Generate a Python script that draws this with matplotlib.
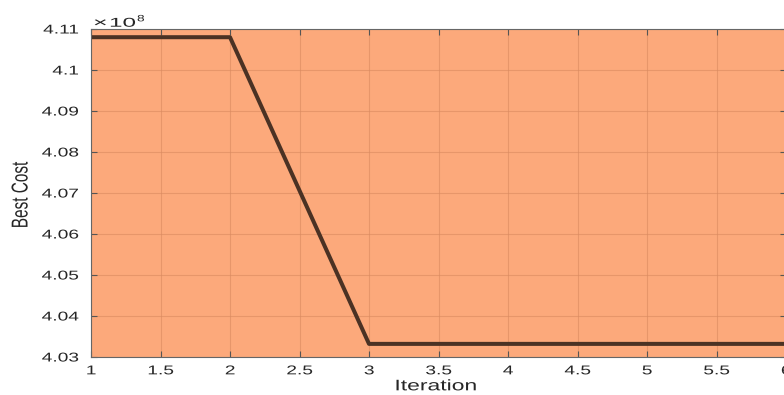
import matplotlib
matplotlib.use("Agg")
import matplotlib.pyplot as plt
from matplotlib.patheffects import AbstractPathEffect
from matplotlib.transforms import Affine2D

iterations = [1, 2, 3, 4, 5, 6]
best_cost = [4.1080e8, 4.1080e8, 4.0332e8, 4.0332e8, 4.0332e8, 4.0332e8]
x_ticks = [1, 1.5, 2, 2.5, 3, 3.5, 4, 4.5, 5, 5.5, 6]
x_tick_labels = ["1", "1.5", "2", "2.5", "3", "3.5", "4", "4.5", "5", "5.5", "6"]
y_ticks = [4.03e8, 4.04e8, 4.05e8, 4.06e8, 4.07e8, 4.08e8, 4.09e8, 4.10e8, 4.11e8]
y_tick_labels = ["4.03", "4.04", "4.05", "4.06", "4.07", "4.08", "4.09", "4.1", "4.11"]

plt.rcParams['font.family'] = ['Liberation Sans', 'DejaVu Sans']


class Stretch(AbstractPathEffect):
    """Stretch glyphs in the text's own frame (sx along, sy across)."""
    def __init__(self, sx=1.0, sy=1.0, anchor='center'):
        super().__init__()
        self.sx, self.sy, self.anchor = sx, sy, anchor

    def draw_path(self, renderer, gc, tpath, affine, rgbFace=None):
        v = tpath.vertices
        if len(v):
            xmin, xmax = v[:, 0].min(), v[:, 0].max()
        else:
            xmin = xmax = 0.0
        ref = {'left': xmin, 'center': 0.5 * (xmin + xmax), 'right': xmax}[self.anchor]
        t = (Affine2D().translate(-ref, 0).scale(self.sx, self.sy)
             .translate(ref, 0) + affine)
        renderer.draw_path(gc, tpath, t, rgbFace)


SX = 1.5
fig = plt.figure(figsize=(7.84, 3.95), dpi=100)
ax = fig.add_axes([91/784, (395-357)/395, (786-91)/784, (357-29)/395])
ax.set_facecolor('#fca97b')
ax.plot(iterations, best_cost, color='#4b3224', linewidth=2.9)
ax.set_xlim(1, 6)
ax.set_ylim(4.03e8, 4.11e8)
ax.set_xticks(x_ticks)
ax.set_xticklabels(x_tick_labels)
ax.set_yticks(y_ticks)
ax.set_yticklabels(y_tick_labels)
ax.grid(True, color='#d98a60', linewidth=0.8, alpha=0.6)
ax.set_axisbelow(True)
ax.tick_params(direction='in', top=True, right=True, length=4, width=0.8,
               colors='#555555', labelcolor='#262626', labelsize=9.2)
ax.tick_params(axis='x', pad=6)
ax.tick_params(axis='y', pad=9)
for s in ax.spines.values():
    s.set_color('#666666')
    s.set_linewidth(0.8)

for lab in ax.get_xticklabels():
    lab.set_path_effects([Stretch(SX, 1.0, 'center')])
for lab in ax.get_yticklabels():
    lab.set_path_effects([Stretch(SX, 1.0, 'right')])

xl = ax.set_xlabel('Iteration', fontsize=11, color='#262626')
ax.xaxis.set_label_coords(0.4957, -0.068)
xl.set_path_effects([Stretch(SX, 1.0, 'center')])

yl = fig.text(23/784, 1 - 195/395, 'Best Cost', rotation=90, fontsize=12,
              color='#262626', ha='center', va='center')
yl.set_path_effects([Stretch(0.92, 1.38, 'center')])

# exponent label "×10^8"
t0 = fig.text(93/784, 1 - 26.7/395, '\u00d7', fontsize=9.5, color='#262626',
              ha='left', va='baseline')
t0.set_path_effects([Stretch(1.9, 1.0, 'left')])
t1 = fig.text(109/784, 1 - 26.7/395, '10', fontsize=9.2, color='#262626',
              ha='left', va='baseline')
t1.set_path_effects([Stretch(1.9, 1.0, 'left')])
t2 = fig.text(137/784, 1 - 21.3/395, '8', fontsize=6.6, color='#262626',
              ha='left', va='baseline')
t2.set_path_effects([Stretch(1.5, 1.0, 'left')])

fig.savefig('out.png', dpi=100)
